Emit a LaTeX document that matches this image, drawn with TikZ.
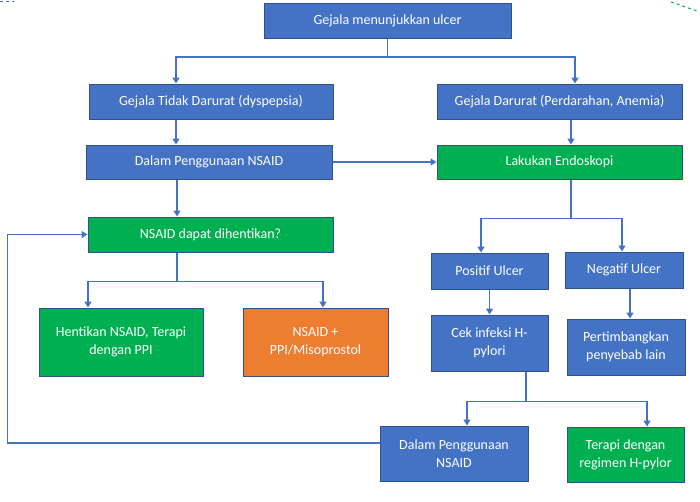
\documentclass[tikz,border=0pt]{standalone}
\usepackage{fontspec}
\setmainfont{Carlito}
\usepackage{xcolor}
\usepackage{tikz}
\usetikzlibrary{arrows.meta}

\definecolor{boxblue}{HTML}{4472C4}
\definecolor{edgeblue}{HTML}{2F528F}
\definecolor{boxgreen}{HTML}{00B050}
\definecolor{boxorange}{HTML}{ED7D31}

\tikzset{
  box/.style={draw=edgeblue, line width=1pt, text=white, align=center, inner sep=0pt,
    font=\fontsize{14}{18}\selectfont},
  bluebox/.style={box, fill=boxblue},
  greenbox/.style={box, fill=boxgreen},
  orangebox/.style={box, fill=boxorange},
  link/.style={draw=boxblue, line width=1.5pt, -{Triangle[length=6pt,width=7pt]}}
}

\begin{document}
\begin{tikzpicture}[x=1pt,y=-1pt]
\useasboundingbox (0,0) rectangle (700,501);
\draw[boxblue, dashed, line width=1pt] (0,1) -- (14,1);
\draw[boxgreen, dashed, line width=1pt] (671,2) -- (697,11);

\node[bluebox, minimum width=247, minimum height=35] (gejala) at (387.5,20.5) {Gejala menunjukkan ulcer};
\node[bluebox, minimum width=244, minimum height=35] (tidak) at (211,101.5) {Gejala Tidak Darurat (dyspepsia)};
\node[bluebox, minimum width=245, minimum height=35] (darurat) at (559.5,101.5) {Gejala Darurat (Perdarahan, Anemia)};
\node[bluebox, minimum width=246, minimum height=34] (dalam) at (209,162) {Dalam Penggunaan NSAID};
\node[greenbox, minimum width=245, minimum height=34] (endo) at (559.5,162) {Lakukan Endoskopi};
\node[greenbox, minimum width=245, minimum height=35] (dapat) at (210.5,234.5) {NSAID dapat dihentikan?};
\node[bluebox, minimum width=117, minimum height=36] (positif) at (489.5,271) {Positif Ulcer};
\node[bluebox, minimum width=118, minimum height=36] (negatif) at (624,270) {Negatif Ulcer};
\node[greenbox, minimum width=164, minimum height=68] (hentikan) at (121,342) {Hentikan NSAID, Terapi\\dengan PPI};
\node[orangebox, minimum width=145, minimum height=68] (ppi) at (315.5,342) {NSAID +\\PPI/Misoprostol};
\node[bluebox, minimum width=117, minimum height=56] (cek) at (489.5,343) {Cek infeksi H-\\pylori};
\node[bluebox, minimum width=118, minimum height=56] (lain) at (626,347) {Pertimbangkan\\penyebab lain};
\node[bluebox, minimum width=148, minimum height=55] (nsaid) at (454,453.5) {Dalam Penggunaan\\NSAID};
\node[greenbox, minimum width=117, minimum height=55] (terapi) at (625.5,454.5) {Terapi dengan\\regimen H-pylor};

\draw[link] (gejala.south) -- ++(0,18.5) -| ([xshift=-35]tidak.north);
\draw[link] (gejala.south) -- ++(0,18.5) -| ([xshift=15.5]darurat.north);
\draw[link] ([xshift=-35]tidak.south) -- ([xshift=-33]dalam.north);
\draw[link] ([xshift=11.5]darurat.south) -- ([xshift=11.5]endo.north);
\draw[link] (dalam.east) -- (endo.west);
\draw[link] ([xshift=-32]dalam.south) -- ([xshift=-33.5]dapat.north);
\draw[link] ([xshift=11.5]endo.south) -- ++(0,39) -| ([xshift=-8.5]positif.north);
\draw[link] ([xshift=11.5]endo.south) -- ++(0,39) -| ([xshift=-2]negatif.north);
\draw[link] ([xshift=-33.5]dapat.south) -- ++(0,29) -| ([xshift=-33]hentikan.north);
\draw[link] ([xshift=-33.5]dapat.south) -- ++(0,29) -| ([xshift=7.5]ppi.north);
\draw[link] (positif.south) -- (cek.north);
\draw[link] ([xshift=6]negatif.south) -- ([xshift=4]lain.north);
\draw[link] ([xshift=36.5]cek.south) -- ++(0,30) -| ([xshift=13]nsaid.north);
\draw[link] ([xshift=36.5]cek.south) -- ++(0,30) -| ([xshift=21.5]terapi.north);
\draw[link] ([yshift=10.5]nsaid.west) -- ++(-372,0) |- (dapat.west);
\end{tikzpicture}
\end{document}
